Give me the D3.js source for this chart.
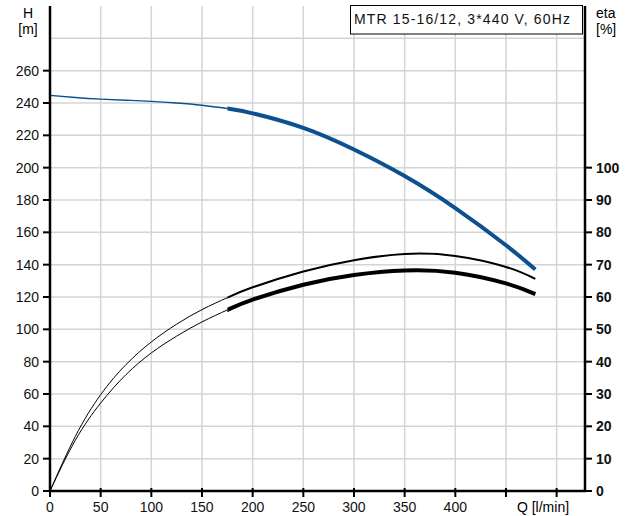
<!DOCTYPE html>
<html>
<head>
<meta charset="utf-8">
<script src="https://cdn.jsdelivr.net/npm/d3@7"></script>
<style>
  html, body { margin: 0; padding: 0; background: #fff; }
  svg { display: block; font-family: "Liberation Sans", Arial, sans-serif; }
</style>
</head>
<body>
<svg id="chart" width="635" height="516"></svg>
<script>
// ---- data ----
const flowQ      = [0, 25, 50, 75, 100, 125, 150, 175, 200, 250, 300, 350, 400, 450, 479];
const headH      = [244.7, 243.4, 242.4, 241.7, 241.0, 240.0, 238.6, 236.6, 233.6, 224.6, 211.2, 194.8, 175.0, 152.0, 137.0];
const etaUpper   = [0, 16.9, 29.8, 39.1, 46.1, 51.6, 56.1, 59.8, 63.0, 67.9, 71.4, 73.3, 72.7, 69.3, 65.6];
const etaLower   = [0, 15.7, 27.2, 36.0, 42.7, 47.9, 52.3, 56.0, 59.2, 63.8, 66.8, 68.2, 67.5, 64.2, 60.9];
const dutyStartQ = 175;
const xTicks     = [0, 50, 100, 150, 200, 250, 300, 350, 400, 450, 500];
const xTickLabels= ["0", "50", "100", "150", "200", "250", "300", "350", "400", "", ""];
const hTicks     = [0, 20, 40, 60, 80, 100, 120, 140, 160, 180, 200, 220, 240, 260];
const hGrid      = [20, 40, 60, 80, 100, 120, 140, 160, 180, 200, 220, 240, 260, 280];
const etaTicks   = [0, 10, 20, 30, 40, 50, 60, 70, 80, 90, 100];
const legendText = "MTR 15-16/12, 3*440 V, 60Hz";

const svg = d3.select("#chart");
const x = d3.scaleLinear().domain([0, 528]).range([50, 585]);
const y = d3.scaleLinear().domain([0, 300]).range([491, 6]);
const yEta = d3.scaleLinear().domain([0, 150]).range([491, 6]);

// grid
const grid = svg.append("g").attr("stroke", "#d2d4d6").attr("stroke-width", 1.5);
grid.selectAll("line.v").data(xTicks.filter(d => d > 0)).join("line")
  .attr("x1", d => x(d)).attr("x2", d => x(d)).attr("y1", y(0)).attr("y2", y(300));
grid.selectAll("line.h").data(hGrid).join("line")
  .attr("x1", x(0)).attr("x2", x(528)).attr("y1", d => y(d)).attr("y2", d => y(d));

// clip regions: thin part (before duty range) and thick part
const defs = svg.append("defs");
defs.append("clipPath").attr("id", "clipThin").append("rect")
  .attr("x", 0).attr("y", 0).attr("width", x(dutyStartQ)).attr("height", 516);
defs.append("clipPath").attr("id", "clipThick").append("rect")
  .attr("x", x(dutyStartQ)).attr("y", 0).attr("width", 635 - x(dutyStartQ)).attr("height", 516);

// curves
const pts = (vals, sc) => flowQ.map((q, i) => ({q, v: vals[i], sc}));
const line = d3.line().x(d => x(d.q)).y(d => d.sc(d.v)).curve(d3.curveNatural);
function drawCurve(vals, sc, color, thin, thick) {
  const p = pts(vals, sc);
  svg.append("path").datum(p).attr("clip-path", "url(#clipThin)")
    .attr("d", line).attr("fill", "none").attr("stroke", color).attr("stroke-width", thin);
  svg.append("path").datum(p).attr("clip-path", "url(#clipThick)")
    .attr("d", line).attr("fill", "none").attr("stroke", color).attr("stroke-width", thick);
}
drawCurve(headH, y, "#0d5090", 1.3, 4);
drawCurve(etaUpper, yEta, "#000", 1, 2);
drawCurve(etaLower, yEta, "#000", 1, 4);

// axes
const axisG = svg.append("g");
axisG.append("line").attr("x1", x(0)).attr("x2", x(0)).attr("y1", y(300)).attr("y2", y(0) + 1)
  .attr("stroke", "#000").attr("stroke-width", 2.5);
axisG.append("line").attr("x1", x(528)).attr("x2", x(528)).attr("y1", y(300)).attr("y2", y(0) + 1)
  .attr("stroke", "#000").attr("stroke-width", 2.5);
axisG.append("line").attr("x1", x(0) - 1).attr("x2", x(528) + 1).attr("y1", y(0)).attr("y2", y(0))
  .attr("stroke", "#000").attr("stroke-width", 2.5);

// left ticks
axisG.selectAll("line.lt").data(hTicks).join("line")
  .attr("x1", x(0) - 7).attr("x2", x(0)).attr("y1", d => y(d)).attr("y2", d => y(d))
  .attr("stroke", "#000").attr("stroke-width", 2);
axisG.selectAll("text.lt").data(hTicks).join("text")
  .attr("x", 39).attr("y", d => y(d)).attr("dy", "0.36em")
  .attr("text-anchor", "end").attr("font-size", 14).attr("fill", "#111").text(d => d);

// right ticks
axisG.selectAll("line.rt").data(etaTicks).join("line")
  .attr("x1", x(528)).attr("x2", x(528) + 7).attr("y1", d => yEta(d)).attr("y2", d => yEta(d))
  .attr("stroke", "#000").attr("stroke-width", 2);
axisG.selectAll("text.rt").data(etaTicks).join("text")
  .attr("x", 596).attr("y", d => yEta(d)).attr("dy", "0.36em")
  .attr("text-anchor", "start").attr("font-size", 14).attr("font-weight", "bold").attr("fill", "#111").text(d => d);

// bottom ticks
axisG.selectAll("line.bt").data(xTicks).join("line")
  .attr("x1", d => x(d)).attr("x2", d => x(d)).attr("y1", y(0) - 3).attr("y2", y(0) + 6)
  .attr("stroke", "#000").attr("stroke-width", 2);
axisG.selectAll("text.bt").data(xTicks).join("text")
  .attr("x", d => x(d)).attr("y", 512)
  .attr("text-anchor", "middle").attr("font-size", 14).attr("fill", "#111")
  .text((d, i) => xTickLabels[i]);

// axis titles
svg.append("text").attr("x", 28).attr("y", 18).attr("text-anchor", "middle").attr("font-size", 14).text("H");
svg.append("text").attr("x", 28).attr("y", 34).attr("text-anchor", "middle").attr("font-size", 14).text("[m]");
svg.append("text").attr("x", 596).attr("y", 18).attr("text-anchor", "start").attr("font-size", 14).text("eta");
svg.append("text").attr("x", 596).attr("y", 34).attr("text-anchor", "start").attr("font-size", 14).text("[%]");
svg.append("text").attr("x", 543).attr("y", 512).attr("text-anchor", "middle").attr("font-size", 14).text("Q [l/min]");

// legend box
svg.append("rect").attr("x", 350.5).attr("y", 5.5).attr("width", 232).attr("height", 28.5)
  .attr("fill", "#fff").attr("stroke", "#000").attr("stroke-width", 1);
svg.append("text").attr("x", 354).attr("y", 24).attr("font-size", 14).attr("fill", "#111")
  .attr("textLength", 216).attr("lengthAdjust", "spacing").text(legendText);
</script>
</body>
</html>
